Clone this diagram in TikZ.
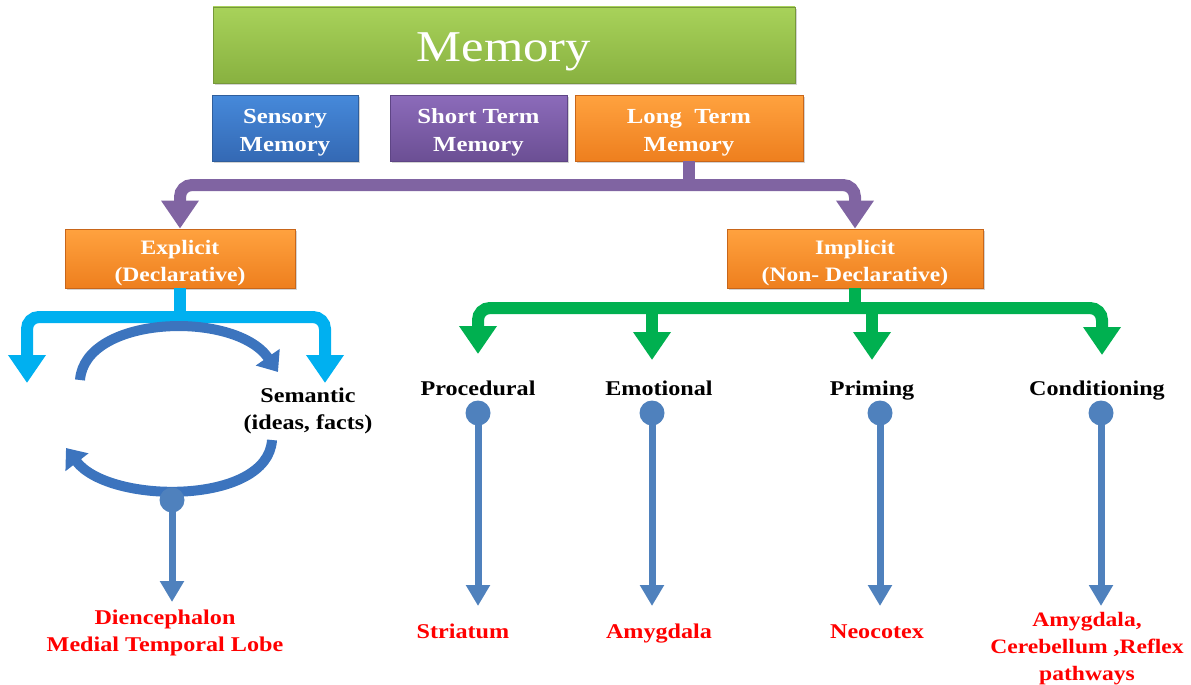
\documentclass[tikz,border=0pt]{standalone}
\usepackage{fontspec}
\setmainfont{Liberation Serif}[FakeStretch=1.15]
\usetikzlibrary{arrows.meta,shadows,calc}
\definecolor{gTop}{HTML}{A8D25A}
\definecolor{gBot}{HTML}{88B140}
\definecolor{gBrd}{HTML}{76983A}
\definecolor{bTop}{HTML}{4689DA}
\definecolor{bBot}{HTML}{3469B4}
\definecolor{bBrd}{HTML}{2F5E9C}
\definecolor{puTop}{HTML}{8C6BBA}
\definecolor{puBot}{HTML}{6B4F94}
\definecolor{puBrd}{HTML}{5E4585}
\definecolor{oTop}{HTML}{FFA23F}
\definecolor{oBot}{HTML}{EE7F1E}
\definecolor{oBrd}{HTML}{C8661A}
\definecolor{conPurple}{HTML}{8064A2}
\definecolor{conLBlue}{HTML}{00B0F0}
\definecolor{conGreen}{HTML}{00B050}
\definecolor{pinBlue}{HTML}{4F81BD}
\definecolor{arcBlue}{HTML}{3C74BE}
\definecolor{redTxt}{HTML}{FF0000}
\newcommand{\firstline}{\rule{0pt}{23pt}}
\tikzset{
  box/.style={rectangle, draw, line width=0.8pt, text=white, align=center,
    inner sep=0pt, font=\bfseries\fontsize{21.5}{28}\selectfont,
    drop shadow={shadow xshift=2pt, shadow yshift=-2pt, opacity=0.35}},
  greenbox/.style={box, top color=gTop, bottom color=gBot, draw=gBrd},
  bluebox/.style={box, top color=bTop, bottom color=bBot, draw=bBrd},
  purplebox/.style={box, top color=puTop, bottom color=puBot, draw=puBrd},
  orangebox/.style={box, top color=oTop, bottom color=oBot, draw=oBrd},
  lbl/.style={inner sep=0pt, align=center, font=\bfseries\fontsize{21}{27.5}\selectfont},
  oneline/.style={text height=15pt, text depth=5pt},
  redlbl/.style={lbl, text=redTxt},
  fattip/.style={-{Triangle[width=36pt,length=28pt]}},
  conn/.style={line width=12pt, rounded corners=12pt},
  pconn/.style={conn, draw=conPurple},
  lbconn/.style={conn, draw=conLBlue},
  gconn/.style={conn, draw=conGreen},
  pinhead/.style={circle, fill=pinBlue, minimum size=25pt, inner sep=0pt},
  pinconn/.style={line width=7pt, draw=pinBlue, -{Triangle[width=23pt,length=21pt]}},
  arcarrow/.style={line width=10pt, draw=arcBlue, -{Triangle[width=28pt,length=18pt]}}
}
\begin{document}
\begin{tikzpicture}[x=1pt,y=-1pt]
\useasboundingbox (0,0) rectangle (1191,685);
% boxes
\node[greenbox, minimum width=582pt, minimum height=76pt, text height=34pt, text depth=0pt,
  font=\fontsize{44}{50}\selectfont] (mem) at (504,45) {Memory};
\node[bluebox, minimum width=146pt, minimum height=66pt] (sens) at (285,128) {\firstline Sensory\\Memory};
\node[purplebox, minimum width=177pt, minimum height=66pt] (stm) at (478.5,128) {\firstline Short Term\\Memory};
\node[orangebox, minimum width=228pt, minimum height=66pt] (ltm) at (689,128) {\firstline Long\ \ Term\\Memory};
\node[orangebox, minimum width=230pt, minimum height=59pt, font=\bfseries\fontsize{20.5}{26.5}\selectfont] (exp) at (180,258.5) {\firstline Explicit\\(Declarative)};
\node[orangebox, minimum width=256pt, minimum height=59pt, font=\bfseries\fontsize{20.5}{26.5}\selectfont] (imp) at (855,258.5) {\firstline Implicit\\(Non- Declarative)};
% purple connector
\coordinate (pj) at (689,185);
\draw[pconn] (ltm.south) -- (pj);
\draw[pconn, {Triangle[width=36pt,length=28pt]}-{Triangle[width=36pt,length=28pt]}]
  (exp.north) |- (imp.north |- pj) -- (imp.north);
% explicit branch (light blue)
\coordinate (ej) at (180,317);
\coordinate (epiT) at (27,383);
\coordinate (semT) at (325,383);
\draw[lbconn] (exp.south) -- (ej);
\draw[lbconn, {Triangle[width=36pt,length=28pt]}-{Triangle[width=36pt,length=28pt]}]
  (epiT) |- (semT |- ej) -- (semT);
\node[lbl] (sem) at (308,411) {Semantic\\(ideas, facts)};
% circular arrows
\draw[arcarrow] (80,380) .. controls (85,315) and (235,310) .. (278,372);
\draw[arcarrow] (272,440) .. controls (268,505) and (110,505) .. (66,448);
% implicit branch (green)
\coordinate (gj) at (855,308);
\coordinate (procT) at (478,354);
\coordinate (emoT) at (652,360);
\coordinate (primT) at (872,360);
\coordinate (condT) at (1102,355);
\draw[gconn] (imp.south) -- (gj);
\draw[gconn, {Triangle[width=36pt,length=28pt]}-{Triangle[width=36pt,length=28pt]}]
  (procT) |- (condT |- gj) -- (condT);
\draw[gconn, fattip] (emoT |- gj) -- (emoT);
\draw[gconn, fattip] (primT |- gj) -- (primT);
% labels
\node[lbl, oneline] (proc) at (478,390) {Procedural};
\node[lbl, oneline] (emo) at (659,390) {Emotional};
\node[lbl, oneline] (prim) at (872,390) {Priming};
\node[lbl, oneline] (cond) at (1097,390) {Conditioning};
% pins
\node[pinhead] (p0) at (172,500) {};
\node[pinhead] (p1) at (478,413) {};
\node[pinhead] (p2) at (652,413) {};
\node[pinhead] (p3) at (880,413) {};
\node[pinhead] (p4) at (1101,413) {};
% red labels
\node[redlbl] (dien) at (165,633) {Diencephalon\\Medial Temporal Lobe};
\node[redlbl, oneline] (stri) at (463,633) {Striatum};
\node[redlbl, oneline] (amy) at (659,633) {Amygdala};
\node[redlbl, oneline] (neo) at (877,633) {Neocotex};
\node[redlbl, font=\bfseries\fontsize{20.5}{27}\selectfont] (cbl) at (1087,649) {Amygdala,\\Cerebellum ,Reflex\\pathways};
% pin arrows
\coordinate (t0) at (172,602);
\coordinate (t1) at (478,606);
\coordinate (t2) at (652,606);
\coordinate (t3) at (880,606);
\coordinate (t4) at (1101,606);
\draw[pinconn] (p0.center) -- (t0);
\draw[pinconn] (p1.center) -- (t1);
\draw[pinconn] (p2.center) -- (t2);
\draw[pinconn] (p3.center) -- (t3);
\draw[pinconn] (p4.center) -- (t4);
\end{tikzpicture}
\end{document}
